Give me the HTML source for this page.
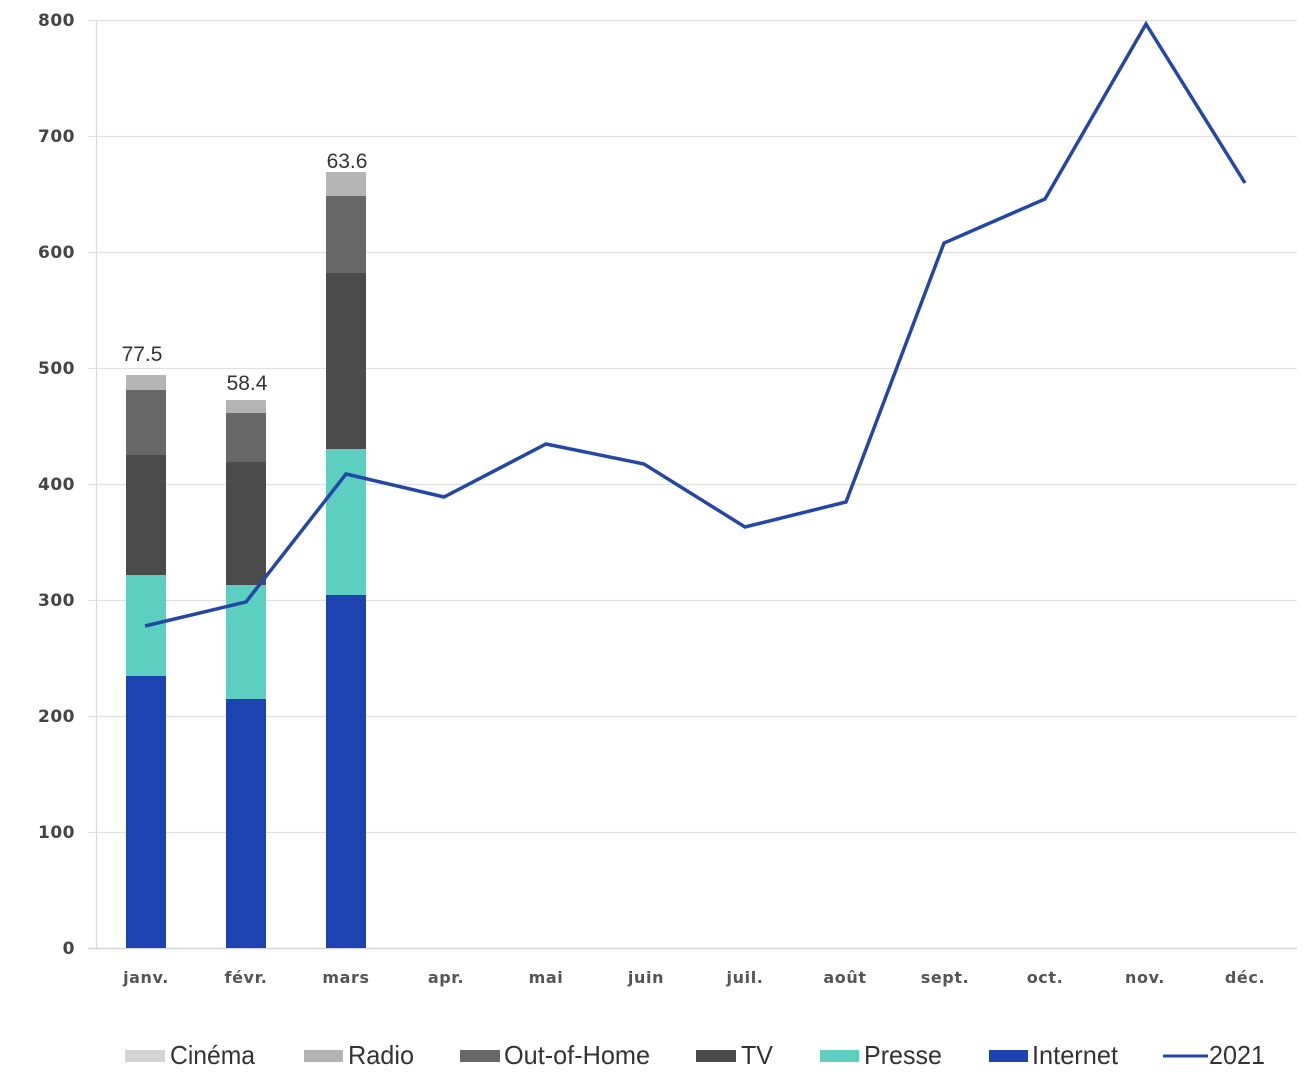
<!DOCTYPE html>
<html>
<head>
<meta charset="utf-8">
<style>
  html,body{margin:0;padding:0;background:#fff;}
  svg{display:block;}
  .yl{font-family:"DejaVu Sans",sans-serif;font-weight:bold;font-size:17px;fill:#444;letter-spacing:0.5px;}
  .xl{font-family:"DejaVu Sans",sans-serif;font-weight:bold;font-size:16px;fill:#555;letter-spacing:0.6px;}
  .dl{font-family:"Liberation Sans",sans-serif;font-size:21px;fill:#333;}
  .lg{font-family:"Liberation Sans",sans-serif;font-size:26px;fill:#333;}
</style>
</head>
<body>
<svg width="1310" height="1090" viewBox="0 0 1310 1090" xmlns="http://www.w3.org/2000/svg">
  <rect width="1310" height="1090" fill="#fff"/>
  <!-- gridlines -->
  <g stroke="#e0e0e0" stroke-width="1.3">
    <line x1="88" y1="20.5" x2="1297" y2="20.5"/>
    <line x1="88" y1="136.5" x2="1297" y2="136.5"/>
    <line x1="88" y1="252.5" x2="1297" y2="252.5"/>
    <line x1="88" y1="368.5" x2="1297" y2="368.5"/>
    <line x1="88" y1="484.5" x2="1297" y2="484.5"/>
    <line x1="88" y1="600.5" x2="1297" y2="600.5"/>
    <line x1="88" y1="716.5" x2="1297" y2="716.5"/>
    <line x1="88" y1="832.5" x2="1297" y2="832.5"/>
  </g>
  <line x1="96.5" y1="20" x2="96.5" y2="948" stroke="#dcdcdc" stroke-width="1.3"/>
  <line x1="88" y1="948.5" x2="1297" y2="948.5" stroke="#d4d4d4" stroke-width="1.5"/>

  <!-- y labels -->
  <g class="yl" text-anchor="end">
    <text x="75" y="26">800</text>
    <text x="75" y="142">700</text>
    <text x="75" y="258">600</text>
    <text x="75" y="374">500</text>
    <text x="75" y="490">400</text>
    <text x="75" y="606">300</text>
    <text x="75" y="722">200</text>
    <text x="75" y="838">100</text>
    <text x="75" y="954">0</text>
  </g>

  <!-- bars -->
  <!-- janv -->
  <rect x="126" y="676" width="40" height="272" fill="#1d43b3"/>
  <rect x="126" y="575" width="40" height="101" fill="#5dcfc1"/>
  <rect x="126" y="455" width="40" height="120" fill="#4b4b4b"/>
  <rect x="126" y="390" width="40" height="65" fill="#686868"/>
  <rect x="126" y="375" width="40" height="15" fill="#b4b4b4"/>
  <!-- fevr -->
  <rect x="226" y="699" width="40" height="249" fill="#1d43b3"/>
  <rect x="226" y="585" width="40" height="114" fill="#5dcfc1"/>
  <rect x="226" y="462" width="40" height="123" fill="#4b4b4b"/>
  <rect x="226" y="413" width="40" height="49" fill="#686868"/>
  <rect x="226" y="400" width="40" height="13" fill="#b4b4b4"/>
  <!-- mars -->
  <rect x="326" y="595" width="40" height="353" fill="#1d43b3"/>
  <rect x="326" y="449" width="40" height="146" fill="#5dcfc1"/>
  <rect x="326" y="273" width="40" height="176" fill="#4b4b4b"/>
  <rect x="326" y="196" width="40" height="77" fill="#686868"/>
  <rect x="326" y="172" width="40" height="24" fill="#b4b4b4"/>

  <!-- data labels -->
  <g class="dl" text-anchor="middle">
    <text x="142" y="361">77.5</text>
    <text x="247" y="390">58.4</text>
    <text x="347" y="168">63.6</text>
  </g>

  <!-- line 2021 -->
  <polyline fill="none" stroke="#2347a6" stroke-width="3.5" stroke-linejoin="miter"
    points="145,626 246,602 346,474 444,497 546,444 644,464 745,527 846,502 944,243 1045,199 1146,24 1245,183"/>

  <!-- x labels -->
  <g class="xl" text-anchor="middle">
    <text x="146" y="983">janv.</text>
    <text x="246" y="983">févr.</text>
    <text x="346" y="983">mars</text>
    <text x="446" y="983">apr.</text>
    <text x="546" y="983">mai</text>
    <text x="646" y="983">juin</text>
    <text x="745" y="983">juil.</text>
    <text x="845" y="983">août</text>
    <text x="945" y="983">sept.</text>
    <text x="1045" y="983">oct.</text>
    <text x="1145" y="983">nov.</text>
    <text x="1245" y="983">déc.</text>
  </g>

  <!-- legend -->
  <rect x="125" y="1050" width="40" height="12" fill="#d3d3d3"/>
  <text class="lg" x="170" y="1064" textLength="85" lengthAdjust="spacingAndGlyphs">Cinéma</text>
  <rect x="304" y="1050" width="39" height="12" fill="#b4b4b4"/>
  <text class="lg" x="348" y="1064" textLength="66" lengthAdjust="spacingAndGlyphs">Radio</text>
  <rect x="460" y="1050" width="40" height="12" fill="#686868"/>
  <text class="lg" x="504" y="1064" textLength="146" lengthAdjust="spacingAndGlyphs">Out-of-Home</text>
  <rect x="696" y="1050" width="40" height="12" fill="#4b4b4b"/>
  <text class="lg" x="741" y="1064" textLength="32" lengthAdjust="spacingAndGlyphs">TV</text>
  <rect x="820" y="1050" width="39" height="12" fill="#5dcfc1"/>
  <text class="lg" x="864" y="1064" textLength="78" lengthAdjust="spacingAndGlyphs">Presse</text>
  <rect x="989" y="1050" width="39" height="12" fill="#1d43b3"/>
  <text class="lg" x="1032" y="1064" textLength="86" lengthAdjust="spacingAndGlyphs">Internet</text>
  <line x1="1163" y1="1056" x2="1208" y2="1056" stroke="#2347a6" stroke-width="3"/>
  <text class="lg" x="1209" y="1064" textLength="56" lengthAdjust="spacingAndGlyphs">2021</text>
</svg>
</body>
</html>
